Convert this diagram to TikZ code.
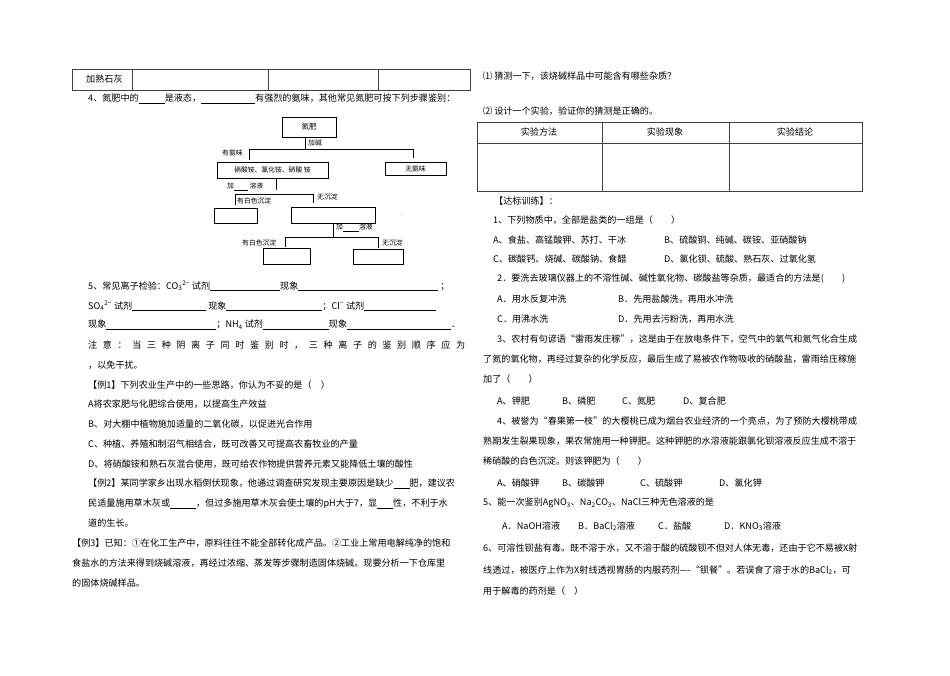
\documentclass[tikz,border=0pt]{standalone}
\usepackage{fontspec}
\setmainfont{Noto Sans CJK SC}
\newcommand{\blk}[1]{\underline{\hspace{#1pt}}}
\begin{document}
\begin{tikzpicture}[x=1pt,y=-1pt,
  txt/.style={anchor=west,inner sep=0pt,font=\fontsize{9.1}{10}\selectfont},
  sm/.style={anchor=west,inner sep=0pt,font=\fontsize{6.8}{7}\selectfont},
  bx/.style={draw,line width=0.6pt},
  ln/.style={line width=0.6pt},
  tb/.style={draw=black!75,line width=0.7pt}]
\useasboundingbox (0,0) rectangle (950,675);
\fill[white] (0,0) rectangle (950,675);
% top-left table
\draw[tb] (72,69) rectangle (470,90);
\draw[tb] (132,69)--(132,90) (268,69)--(268,90) (378,69)--(378,90);
\node[txt] (t0) at (86,79) {加熟石灰};
\node[txt] (l4) at (88,99) {4、氮肥中的\blk{26}是液态，\blk{54}有强烈的氨味，其他常见氮肥可按下列步骤鉴别：};
% flowchart
\node[bx,minimum width=54pt,minimum height=20pt,font=\fontsize{7.5}{8}\selectfont] (n0) at (309,127) {氮肥};
\coordinate (b1) at (305,149);
\draw[ln] (305,137)--(b1);
\node[sm] (jj) at (308,143) {加碱};
\draw[ln] (249,160)--(249,149)--(413,149)--(413,158);
\node[sm] (yaw) at (222,153) {有氨味};
\node[bx,minimum width=111pt,minimum height=16pt,font=\fontsize{6.8}{7}\selectfont] (n1) at (272.5,170) {硝酸铵、氯化铵、硝酸 铵};
\node[bx,minimum width=61pt,minimum height=13pt,font=\fontsize{6.8}{7}\selectfont] (n2) at (415.5,168.5) {无氨味};
\node[sm] (j1) at (227,187) {加\blk{14}\ 溶液};
\draw[ln] (276,178)--(276,190);
\draw[ln] (235,205)--(235,194)--(313,194)--(313,203);
\node[sm] (w1) at (237,201) {有白色沉淀};
\node[sm] (w2) at (317,197) {无沉淀};
\node[bx,minimum width=43pt,minimum height=15pt] (n3) at (235.5,215.5) {};
\node[bx,minimum width=84pt,minimum height=16pt] (n4) at (333,215) {};
\node[sm,text=black!50] (dot) at (402,215) {:};
\draw[ln] (333,223)--(333,238);
\node[sm] (j2) at (336,228) {加\blk{16}溶液};
\draw[ln] (285,247)--(285,237)--(378,237)--(378,248);
\node[sm] (w3) at (242,243) {有白色沉淀};
\node[sm] (w4) at (382,243) {无沉淀};
\node[bx,minimum width=47pt,minimum height=16pt] (n5) at (286.5,256) {};
\node[bx,minimum width=50pt,minimum height=15pt] (n6) at (378,256.5) {};
% section 5
\node[txt] (s5) at (88,286) {5、常见离子检验：CO\textsubscript{3}\textsuperscript{2−} 试剂\blk{70}现象\blk{140}\ ；};
\node[txt] (s5b) at (88,306) {SO\textsubscript{4}\textsuperscript{2−} 试剂\blk{74}\ 现象\blk{96}；Cl\textsuperscript{−} 试剂\blk{72}};
\node[txt] (s5c) at (88,325) {现象\blk{110}；NH\textsubscript{4} 试剂\blk{66}现象\blk{104}．};
\node[txt] (s5d) at (88,345) {\makebox[377pt][s]{注\hfill 意\hfill ：\hfill 当\hfill 三\hfill 种\hfill 阴\hfill 离\hfill 子\hfill 同\hfill 时\hfill 鉴\hfill 别\hfill 时\hfill ，\hfill 三\hfill 种\hfill 离\hfill 子\hfill 的\hfill 鉴\hfill 别\hfill 顺\hfill 序\hfill 应\hfill 为}};
\node[txt] (s5e) at (88,365) {，以免干扰。};
\node[txt] (e1) at (88,385) {【例1】下列农业生产中的一些思路，你认为不妥的是（\quad ）};
\node[txt] (e1a) at (88,404) {A将农家肥与化肥综合使用，以提高生产效益};
\node[txt] (e1b) at (88,424) {B、对大棚中植物施加适量的二氧化碳，以促进光合作用};
\node[txt] (e1c) at (88,444) {C、种植、养殖和制沼气相结合，既可改善又可提高农畜牧业的产量};
\node[txt] (e1d) at (88,464) {D、将硝酸铵和熟石灰混合使用，既可给农作物提供营养元素又能降低土壤的酸性};
\node[txt] (e2) at (88,484) {【例2】某同学家乡出现水稻倒伏现象，他通过调查研究发现主要原因是缺少\blk{16}肥，建议农};
\node[txt] (e2b) at (88,504) {民适量施用草木灰或\blk{26}，但过多施用草木灰会使土壤的pH大于7，显\blk{16}性，不利于水};
\node[txt] (e2c) at (88,523) {道的生长。};
\node[txt] (e3) at (72,543) {【例3】已知：①在化工生产中，原料往往不能全部转化成产品。②工业上常用电解纯净的饱和};
\node[txt] (e3b) at (72,563) {食盐水的方法来得到烧碱溶液，再经过浓缩、蒸发等步骤制造固体烧碱。现要分析一下仓库里};
\node[txt] (e3c) at (72,583) {的固体烧碱样品。};
% right column
\node[txt] (r1) at (483,76) {⑴ 猜测一下，该烧碱样品中可能含有哪些杂质？};
\node[txt] (r2) at (483,111) {⑵ 设计一个实验，验证你的猜测是正确的。};
\draw[tb] (477,122) rectangle (862,191);
\draw[tb] (477,143)--(862,143) (602,122)--(602,191) (729,122)--(729,191);
\node[txt,anchor=center] (h1) at (539,132) {实验方法};
\node[txt,anchor=center] (h2) at (665,132) {实验现象};
\node[txt,anchor=center] (h3) at (795,132) {实验结论};
\node[txt] (d0) at (494,201) {【达标训练】：};
\node[txt] (q1) at (493,220) {1、下列物质中，全部是盐类的一组是（\qquad ）};
\node[txt] (q1a) at (493,240) {A、食盐、高锰酸钾、苏打、干冰};
\node[txt] (q1b) at (664,240) {B、硫酸铜、纯碱、碳铵、亚硝酸钠};
\node[txt] (q1c) at (493,259) {C、碳酸钙、烧碱、碳酸钠、食醋};
\node[txt] (q1d) at (664,259) {D、氯化钡、硫酸、熟石灰、过氧化氢};
\node[txt] (q2) at (497,279) {2．要洗去玻璃仪器上的不溶性碱、碱性氧化物、碳酸盐等杂质，最适合的方法是(\qquad )};
\node[txt] (q2a) at (497,299) {A．用水反复冲洗};
\node[txt] (q2b) at (618,299) {B．先用盐酸洗，再用水冲洗};
\node[txt] (q2c) at (497,319) {C．用沸水洗};
\node[txt] (q2d) at (618,319) {D．先用去污粉洗，再用水洗};
\node[txt] (q3) at (497,339) {3、农村有句谚语“雷雨发庄稼”，这是由于在放电条件下，空气中的氧气和氮气化合生成};
\node[txt] (q3b) at (483,359) {了氮的氧化物，再经过复杂的化学反应，最后生成了易被农作物吸收的硝酸盐，雷雨给庄稼施};
\node[txt] (q3c) at (483,379) {加了（\qquad ）};
\node[txt] (q3A) at (497,401) {A、钾肥};
\node[txt] (q3B) at (562,401) {B、磷肥};
\node[txt] (q3C) at (622,401) {C、氮肥};
\node[txt] (q3D) at (683,401) {D、复合肥};
\node[txt] (q4) at (497,421) {4、被誉为“春果第一枝”的大樱桃已成为烟台农业经济的一个亮点，为了预防大樱桃带成};
\node[txt] (q4b) at (483,441) {熟期发生裂果现象，果农常施用一种钾肥。这种钾肥的水溶液能跟氯化钡溶液反应生成不溶于};
\node[txt] (q4c) at (483,461) {稀硝酸的白色沉淀。则该钾肥为（\qquad ）};
\node[txt] (q4A) at (497,483) {A、硝酸钾};
\node[txt] (q4B) at (562,483) {B、碳酸钾};
\node[txt] (q4C) at (640,483) {C、硫酸钾};
\node[txt] (q4D) at (719,483) {D、氯化钾};
\node[txt] (q5) at (483,503) {5、能一次鉴别AgNO\textsubscript{3}、Na\textsubscript{2}CO\textsubscript{3}、NaCl三种无色溶液的是};
\node[txt] (q5A) at (502,526) {A．NaOH溶液};
\node[txt] (q5B) at (578,526) {B．BaCl\textsubscript{2}溶液};
\node[txt] (q5C) at (658,526) {C．盐酸};
\node[txt] (q5D) at (724,526) {D．KNO\textsubscript{3}溶液};
\node[txt] (q6) at (483,548) {6、可溶性钡盐有毒。既不溶于水，又不溶于酸的硫酸钡不但对人体无毒，还由于它不易被X射};
\node[txt] (q6b) at (483,570) {线透过，被医疗上作为X射线透视胃肠的内服药剂----“钡餐”。若误食了溶于水的BaCl\textsubscript{2}，可};
\node[txt] (q6c) at (483,591) {用于解毒的药剂是（\quad ）};
\end{tikzpicture}
\end{document}
